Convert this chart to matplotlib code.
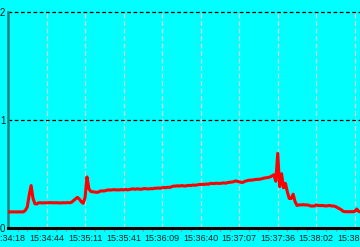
import matplotlib
matplotlib.use("Agg")
import matplotlib.pyplot as plt
from matplotlib import font_manager
import numpy as np
from matplotlib.ticker import MultipleLocator

# pick a narrow face if one is installed
names = {f.name for f in font_manager.fontManager.ttflist}
if 'Liberation Sans Narrow' in names:
    label_font, label_size = 'Liberation Sans Narrow', 7.5
else:
    label_font, label_size = 'Liberation Sans', 6.5
plt.rcParams['font.family'] = [label_font, 'DejaVu Sans']

# time labels shown every 20 samples
time_labels = ['15:34:18', '15:34:44', '15:35:11', '15:35:41', '15:36:09',
               '15:36:40', '15:37:07', '15:37:36', '15:38:02', '15:38:30']

# load readings, one per sample
load = [
    0.145, 0.145, 0.145, 0.146, 0.145, 0.145, 0.145, 0.146, 0.145,
    0.16, 0.19, 0.30, 0.39, 0.27, 0.22, 0.22,
    0.23, 0.23, 0.228, 0.23, 0.23, 0.23, 0.232, 0.23, 0.23, 0.23, 0.23, 0.228,
    0.23, 0.23, 0.23, 0.232, 0.23,
    0.235, 0.25, 0.265, 0.28, 0.265, 0.24, 0.225, 0.28, 0.47, 0.36,
    0.335, 0.333, 0.33, 0.327, 0.33, 0.34, 0.34, 0.34,
    0.345, 0.35, 0.348, 0.35, 0.352, 0.35, 0.35,
    0.35, 0.352, 0.35, 0.355, 0.35, 0.353,
    0.355, 0.36, 0.355, 0.36, 0.358, 0.355, 0.36, 0.362, 0.36, 0.358, 0.362, 0.36,
    0.365, 0.365, 0.368, 0.365, 0.37, 0.372, 0.37, 0.375, 0.372,
    0.38, 0.385, 0.385, 0.388, 0.385, 0.39, 0.388, 0.385, 0.39, 0.392, 0.39,
    0.395, 0.393, 0.395,
    0.40, 0.40, 0.402, 0.40, 0.405, 0.402,
    0.41, 0.41, 0.408, 0.412, 0.41, 0.41, 0.412, 0.415, 0.412, 0.418, 0.42,
    0.422, 0.425, 0.433, 0.43, 0.425, 0.42, 0.42, 0.43, 0.435, 0.44,
    0.44, 0.442, 0.445, 0.448, 0.448, 0.45, 0.455, 0.46,
    0.462, 0.465, 0.47, 0.48, 0.49, 0.43, 0.69, 0.38, 0.50, 0.37, 0.41,
    0.33, 0.27, 0.27, 0.31, 0.24, 0.205,
    0.21, 0.21, 0.212, 0.21, 0.21, 0.208, 0.20, 0.20, 0.20,
    0.21, 0.205,
    0.203, 0.205, 0.203, 0.20, 0.203, 0.205, 0.20, 0.20,
    0.195, 0.185, 0.175, 0.165, 0.15,
    0.147, 0.147, 0.147, 0.147, 0.147,
    0.15, 0.172, 0.15, 0.145,
]

x = np.arange(len(load))
tick_pos = np.arange(len(time_labels)) * 20

fig = plt.figure(figsize=(3.6, 2.47), dpi=100)
fig.patch.set_facecolor('#00ffff')
ax = fig.add_axes([8 / 360, 19.5 / 247, 352 / 360, 215 / 247])
ax.set_facecolor('#00ffff')

# vertical grid (light, dashed)
for p in tick_pos[1:]:
    ax.axvline(p, color='#c8d8d8', lw=0.9, dashes=(4, 2), zorder=1)
# horizontal grid (black, dashed)
for v in [1, 2]:
    ax.axhline(v, color='black', lw=0.9, dashes=(3, 2), zorder=1, clip_on=False)

ax.plot(x, load, color='#ff0000', lw=2.2, zorder=3)

ax.set_xlim(0, 182.7)
ax.set_ylim(0, 2)
ax.set_xticks(tick_pos)
ax.set_xticklabels(time_labels)
ax.xaxis.set_minor_locator(MultipleLocator(5))
ax.set_yticks([0, 1, 2])
ax.set_yticklabels(['0', '1', '2'])

ax.tick_params(axis='x', which='major', length=0, pad=4.5, labelsize=label_size, colors='#102020')
ax.tick_params(axis='x', which='minor', length=2.5, width=0.8, color='#b07070', direction='out')
ax.tick_params(axis='y', length=0, pad=2, labelsize=label_size + 0.5, colors='#102020')

for s in ['top', 'right']:
    ax.spines[s].set_visible(False)
ax.spines['left'].set_color('#208080')
ax.spines['left'].set_linewidth(1.8)
ax.spines['bottom'].set_color('black')
ax.spines['bottom'].set_linewidth(2.2)
ax.spines['bottom'].set_zorder(4)

fig.savefig('out.png', dpi=100, facecolor=fig.get_facecolor())
